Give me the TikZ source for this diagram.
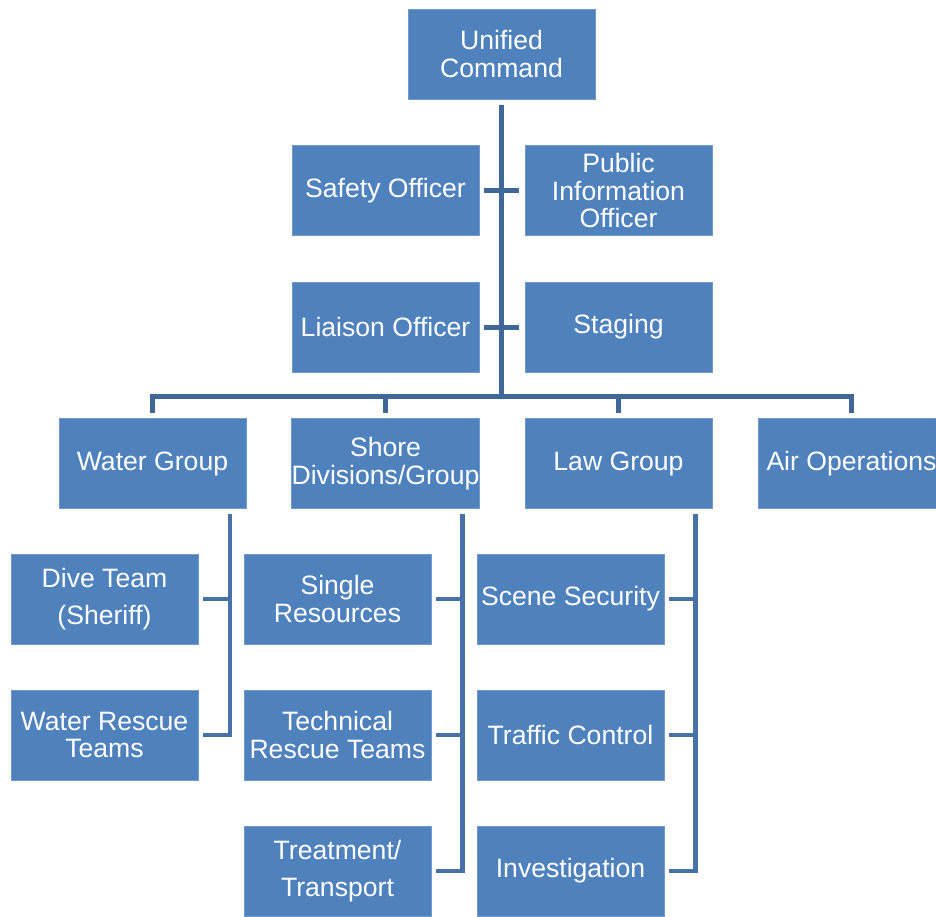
\documentclass[tikz,border=0pt]{standalone}
\usepackage{fontspec}
\setmainfont{Liberation Sans}
\definecolor{boxfill}{HTML}{4F81BD}
\definecolor{topline}{HTML}{3F6898}
\definecolor{subline}{HTML}{4672A8}
\tikzset{
  orgbox/.style={rectangle, fill=boxfill, draw=boxfill!80!white, line width=0.6pt,
    minimum width=187pt, minimum height=90pt, inner sep=0pt, align=center,
    text=white, font=\fontsize{26.6}{27.5}\selectfont},
  mainconn/.style={draw=topline, line width=5pt},
  subconn/.style={draw=subline, line width=4.6pt}
}
\begin{document}
\begin{tikzpicture}[x=1pt,y=-1pt]
\useasboundingbox (0,0) rectangle (936,916);
\clip (0,0) rectangle (936,916);
% level 0
\node[orgbox] (uc) at (501.5,54) {Unified\\Command};
% staff
\node[orgbox] (so) at (385.5,190.5) {Safety Officer};
\node[orgbox] (pio) at (618.5,190.5) {Public\\Information\\Officer};
\node[orgbox] (lo) at (385.5,327) {Liaison Officer};
\node[orgbox] (st) at (618.5,327) {Staging};
% level 2
\node[orgbox] (wg) at (152.5,463.5) {Water Group};
\node[orgbox] (sd) at (385.5,463.5) {Shore\\Divisions/Group};
\node[orgbox] (lg) at (618.5,463.5) {Law Group};
\node[orgbox] (ao) at (851.5,463.5) {Air Operations};
% level 3
\node[orgbox] (dt) at (104.5,599) {Dive Team\\[10pt](Sheriff)};
\node[orgbox] (wr) at (104.5,735) {Water Rescue\\Teams};
\node[orgbox] (sr) at (337.5,599) {Single\\Resources};
\node[orgbox] (tr) at (337.5,735) {Technical\\Rescue Teams};
\node[orgbox] (tt) at (337.5,871) {Treatment/\\[10pt]Transport};
\node[orgbox] (ss) at (570.5,599) {Scene Security};
\node[orgbox] (tc) at (570.5,735) {Traffic Control};
\node[orgbox] (inv) at (570.5,871) {Investigation};
% coordinates
\coordinate (bus) at (501.5,396);
% trunk
\draw[mainconn] ([yshift=-6pt]uc.south) -- (uc.south |- bus);
\draw[mainconn] ([xshift=5pt]so.east) -- ([xshift=-6pt]pio.west);
\draw[mainconn] ([xshift=5pt]lo.east) -- ([xshift=-6pt]st.west);
% bus
\draw[mainconn] ([yshift=5pt]wg.north) |- (ao.north |- bus) -- ([yshift=5pt]ao.north);
\draw[mainconn] ([yshift=5pt]sd.north) -- (sd.north |- bus);
\draw[mainconn] ([yshift=5pt]lg.north) -- (lg.north |- bus);
% water branch
\coordinate (wgb) at ([xshift=-16.5pt,yshift=-5pt]wg.south east);
\draw[subconn] ([xshift=5pt]dt.east) -- (dt.east -| wgb);
\draw[subconn] ([xshift=5pt]wr.east) -| (wgb);
% shore branch
\coordinate (sdb) at ([xshift=-17pt,yshift=-5pt]sd.south east);
\draw[subconn] ([xshift=5pt]sr.east) -- (sr.east -| sdb);
\draw[subconn] ([xshift=5pt]tr.east) -- (tr.east -| sdb);
\draw[subconn] ([xshift=5pt]tt.east) -| (sdb);
% law branch
\coordinate (lgb) at ([xshift=-17pt,yshift=-5pt]lg.south east);
\draw[subconn] ([xshift=5pt]ss.east) -- (ss.east -| lgb);
\draw[subconn] ([xshift=5pt]tc.east) -- (tc.east -| lgb);
\draw[subconn] ([xshift=5pt]inv.east) -| (lgb);
\end{tikzpicture}
\end{document}
